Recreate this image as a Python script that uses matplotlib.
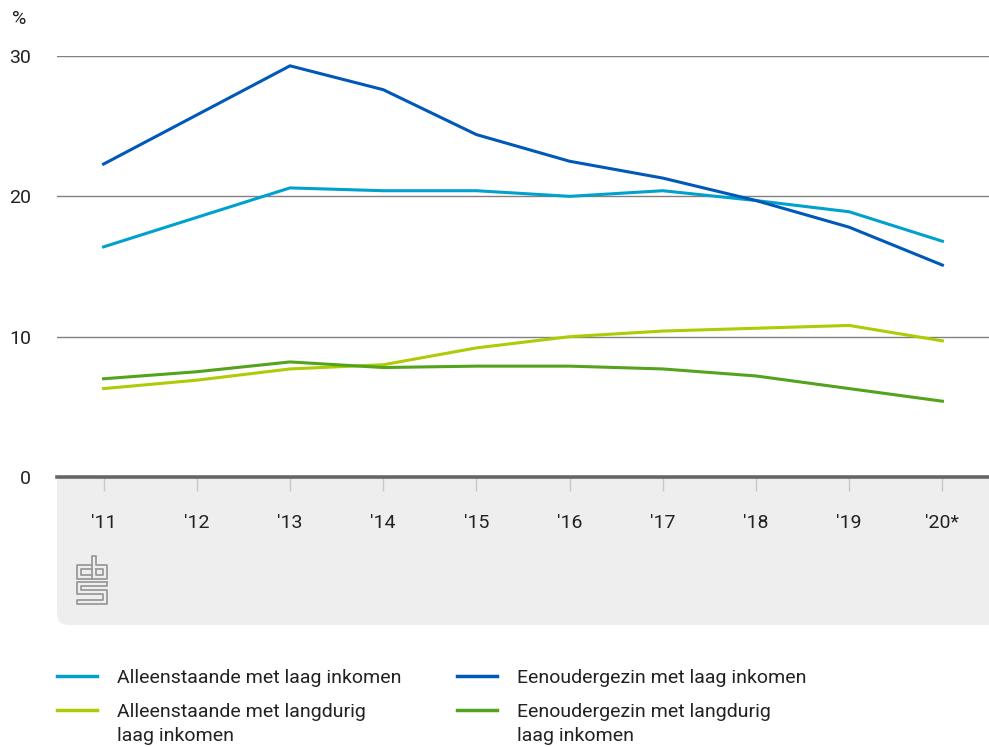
import matplotlib
matplotlib.use('Agg')

import matplotlib.pyplot as plt
from matplotlib.lines import Line2D
from matplotlib.patches import FancyBboxPatch
from matplotlib.transforms import IdentityTransform

years = ["'11", "'12", "'13", "'14", "'15", "'16", "'17", "'18", "'19", "'20*"]

alleen_laag = [16.4, 18.5, 20.6, 20.4, 20.4, 20.0, 20.4, 19.7, 18.9, 16.8]
eenouder_laag = [22.3, 25.8, 29.3, 27.6, 24.4, 22.5, 21.3, 19.7, 17.8, 15.1]
alleen_langdurig = [6.3, 6.9, 7.7, 8.0, 9.2, 10.0, 10.4, 10.6, 10.8, 9.7]
eenouder_langdurig = [7.0, 7.5, 8.2, 7.8, 7.9, 7.9, 7.7, 7.2, 6.3, 5.4]

series = [
    ("Alleenstaande met laag inkomen", alleen_laag, "#00a1cd"),
    ("Eenoudergezin met laag inkomen", eenouder_laag, "#0058b8"),
    ("Alleenstaande met langdurig\nlaag inkomen", alleen_langdurig, "#afcb05"),
    ("Eenoudergezin met langdurig\nlaag inkomen", eenouder_langdurig, "#53a31d"),
]

plt.rcParams['font.family'] = ['Roboto', 'DejaVu Sans']
FS = 14
W, H = 989, 747

fig = plt.figure(figsize=(W / 100, H / 100), dpi=100)


def px(x, y):
    # image pixel (y down) -> figure fraction
    return x / W, 1 - y / H


ax_l, ax_b = px(57, 477)
ax_r, ax_t = px(989, 56)
ax = fig.add_axes([ax_l, ax_b, ax_r - ax_l, ax_t - ax_b])
ax.set_facecolor('white')

# grey panel below the axis
panel = FancyBboxPatch((57, H - 625), 960, 190, boxstyle="round,pad=0,rounding_size=12",
                       transform=IdentityTransform(), facecolor='#eeeeee', edgecolor='none',
                       zorder=-1)
fig.patches.append(panel)

x = list(range(len(years)))
for label, vals, color in series:
    ax.plot(x, vals, color=color, lw=2.2, clip_on=False, zorder=3, solid_joinstyle='miter')

ax.set_xlim(-0.5, 9.5)
ax.set_ylim(0, 30)
ax.set_yticks([0, 10, 20, 30])
ax.set_xticks(x)
ax.set_xticklabels(years)
ax.grid(axis='y', color='#808080', lw=1)
ax.axhline(0, color='#666666', lw=2.6, zorder=4, clip_on=False)
ax.set_axisbelow(True)
for s in ax.spines.values():
    s.set_visible(False)

ax.tick_params(axis='y', length=0, pad=18.5, labelsize=FS, labelcolor='#222222')
ax.tick_params(axis='x', length=10, width=1, color='#c8c8c8', pad=17, labelsize=FS,
               labelcolor='#222222')

fig.text(*px(12, 19), "%", fontsize=FS, color='#222222', va='center', ha='left')

# cbs logo (rough outline)
logo_col = '#9a9a9a'
logo_paths = [
    [(92, 565), (77, 565), (77, 579), (92, 579)],
    [(92, 569), (81, 569), (81, 575), (92, 575)],
    [(92, 579), (107, 579), (107, 565), (96, 565), (96, 556), (92, 556), (92, 579)],
    [(96, 569), (103, 569), (103, 575), (96, 575), (96, 569)],
    [(107, 582), (77, 582), (77, 594), (103, 594), (103, 600), (77, 600), (77, 604),
     (107, 604), (107, 590), (81, 590), (81, 586), (107, 586), (107, 582)],
]
for path in logo_paths:
    xs, ys = zip(*[px(a, b) for a, b in path])
    fig.add_artist(Line2D(xs, ys, color=logo_col, lw=1.3, transform=fig.transFigure))

# legend
legend_pos = [(57, 676), (457, 676), (57, 710), (457, 710)]
for (label, vals, color), (lx, ly) in zip(series, legend_pos):
    x0, y0 = px(lx, ly)
    x1, _ = px(lx + 40, ly)
    fig.add_artist(Line2D([x0, x1], [y0, y0], color=color, lw=2.5, transform=fig.transFigure))
    tx, ty = px(lx + 60, ly - 7)
    fig.text(tx, ty, label, fontsize=FS, color='#222222', va='top', ha='left',
             linespacing=1.4)

fig.savefig('out.png', dpi=100)
